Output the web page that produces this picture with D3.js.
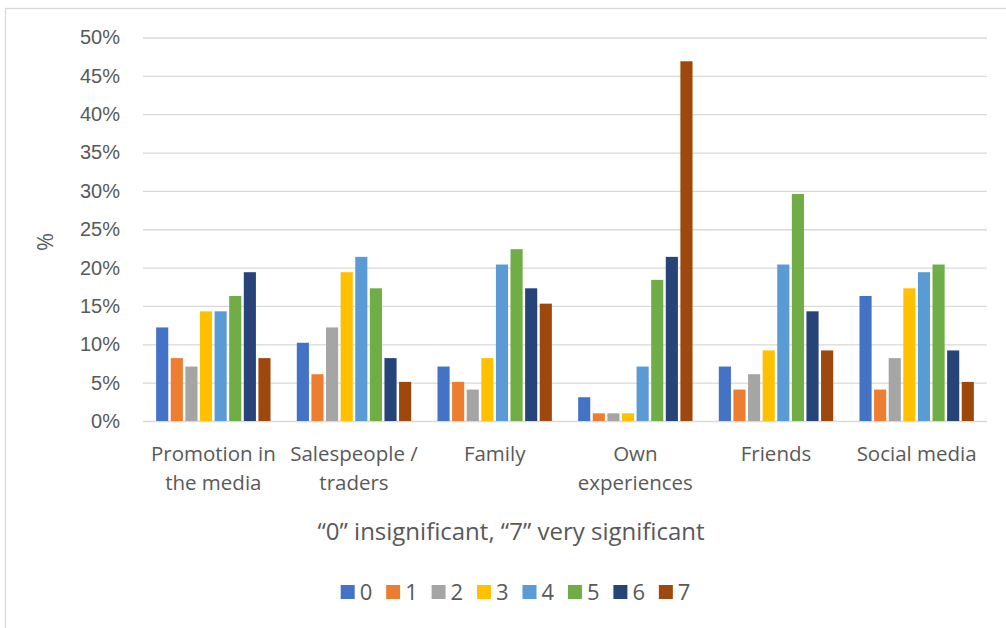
<!DOCTYPE html>
<html>
<head>
<meta charset="utf-8">
<script src="https://cdn.jsdelivr.net/npm/d3@7"></script>
<style>
    body { margin: 0; background: #fff; }
    svg { display: block; font-family: "Open Sans", "Noto Sans", sans-serif; }
</style>
</head>
<body>
<div id="chart"></div>
<script>
const WIDTH = 1006;
const HEIGHT = 628;

// answer scale 0..7 ("0" insignificant, "7" very significant)
const series = ["0", "1", "2", "3", "4", "5", "6", "7"];
const categories = [
    ["Promotion in", "the media"],
    ["Salespeople /", "traders"],
    ["Family"],
    ["Own", "experiences"],
    ["Friends"],
    ["Social media"]
];
// % of respondents, one array per category, in series order 0..7
const promotion   = [12.2, 8.2, 7.1, 14.3, 14.3, 16.3, 19.4, 8.2];
const salespeople = [10.2, 6.1, 12.2, 19.4, 21.4, 17.3, 8.2, 5.1];
const family      = [7.1, 5.1, 4.1, 8.2, 20.4, 22.4, 17.3, 15.3];
const ownExp      = [3.1, 1.0, 1.0, 1.0, 7.1, 18.4, 21.4, 46.9];
const friends     = [7.1, 4.1, 6.1, 9.2, 20.4, 29.6, 14.3, 9.2];
const socialMedia = [16.3, 4.1, 8.2, 17.3, 19.4, 20.4, 9.2, 5.1];
const yTicks = [0, 5, 10, 15, 20, 25, 30, 35, 40, 45, 50];

const colors = ["#4472C4", "#ED7D31", "#A5A5A5", "#FFC000", "#5B9BD5", "#70AD47", "#264478", "#9E480E"];

const values = [promotion, salespeople, family, ownExp, friends, socialMedia];
const data = categories.map((c, i) => ({ key: c.join(" "), lines: c, values: values[i] }));

const margin = { left: 143, right: 19, top: 37.5, bottom: 207 };

const svg = d3.select("#chart").append("svg")
    .attr("width", WIDTH)
    .attr("height", HEIGHT);

// chart area frame (only left and top edges fall inside the picture)
svg.append("rect")
    .attr("x", 5.5).attr("y", 8.5)
    .attr("width", WIDTH).attr("height", HEIGHT)
    .attr("fill", "none")
    .attr("stroke", "#D9D9D9")
    .attr("stroke-width", 1.3);

const x0 = d3.scaleBand()
    .domain(data.map(d => d.key))
    .range([margin.left, WIDTH - margin.right])
    .padding(0);

const x1 = d3.scaleBand()
    .domain(series)
    .range([0, x0.bandwidth()])
    .paddingInner(0.17)
    .paddingOuter(0.9);

const y = d3.scaleLinear()
    .domain([0, 50])
    .range([HEIGHT - margin.bottom, margin.top]);

// gridlines + tick labels
const yAxis = d3.axisLeft(y)
    .tickValues(yTicks)
    .tickSize(-(WIDTH - margin.right - margin.left))
    .tickPadding(23)
    .tickFormat(d => d + "%");

const gy = svg.append("g")
    .attr("transform", "translate(" + margin.left + ",0)")
    .call(yAxis);
gy.select(".domain").remove();
gy.selectAll(".tick line")
    .attr("stroke", "#D9D9D9")
    .attr("stroke-width", 1.3);
gy.selectAll(".tick text")
    .attr("fill", "#595959")
    .style("font-size", "20px");

// bars
const groups = svg.append("g").selectAll("g")
    .data(data)
    .enter().append("g")
        .attr("transform", d => "translate(" + x0(d.key) + ",0)");

groups.selectAll("rect")
    .data(d => d.values.map((v, i) => ({ s: series[i], v: v })))
    .enter().append("rect")
        .attr("x", d => x1(d.s))
        .attr("width", x1.bandwidth())
        .attr("y", d => y(d.v))
        .attr("height", d => y(0) - y(d.v))
        .attr("fill", (d, i) => colors[i]);

// category labels
const catText = svg.append("g").selectAll("text")
    .data(data)
    .enter().append("text")
        .attr("x", d => x0(d.key) + x0.bandwidth() / 2)
        .attr("y", 461)
        .attr("text-anchor", "middle")
        .attr("fill", "#595959")
        .style("font-size", "20.5px");

catText.selectAll("tspan")
    .data(d => d.lines)
    .enter().append("tspan")
        .attr("x", function () { return d3.select(this.parentNode).attr("x"); })
        .attr("dy", (d, i) => i === 0 ? 0 : 28.5)
        .text(d => d);

// axis titles
svg.append("text")
    .attr("transform", "translate(53,242) rotate(-90)")
    .attr("text-anchor", "middle")
    .attr("fill", "#595959")
    .style("font-size", "22px")
    .text("%");

svg.append("text")
    .attr("x", 511)
    .attr("y", 540)
    .attr("text-anchor", "middle")
    .attr("fill", "#595959")
    .style("font-size", "24px")
    .text("\u201C0\u201D insignificant, \u201C7\u201D very significant");

// legend
const legend = svg.append("g").selectAll("g")
    .data(series)
    .enter().append("g")
        .attr("transform", (d, i) => "translate(" + (340.7 + i * 45.45) + ",585)");

legend.append("rect")
    .attr("width", 14)
    .attr("height", 14)
    .attr("fill", (d, i) => colors[i]);

legend.append("text")
    .attr("x", 19)
    .attr("y", 14.5)
    .attr("fill", "#595959")
    .style("font-size", "22px")
    .text(d => d);
</script>
</body>
</html>
